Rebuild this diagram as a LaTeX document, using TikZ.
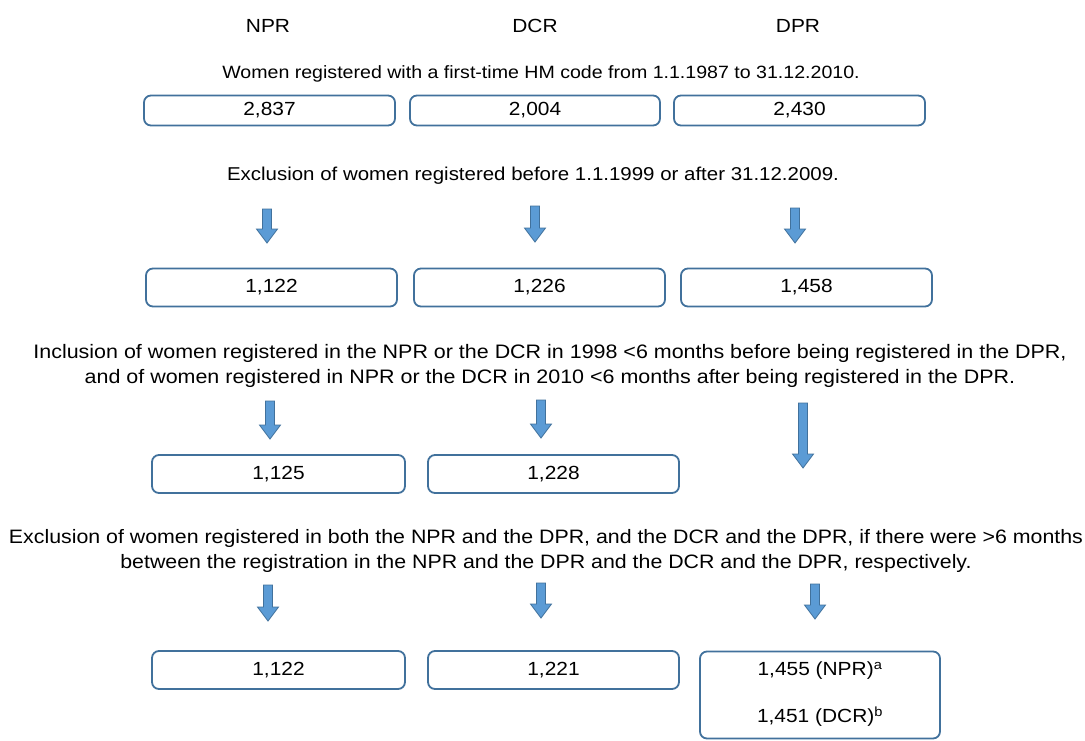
\documentclass[tikz,border=0pt]{standalone}
\usepackage{fontspec}
\setmainfont{Liberation Sans}[FakeStretch=1.1]
\begin{document}
\begin{tikzpicture}[x=1pt,y=-1pt,
  lbl/.style={inner sep=0pt,font=\fontsize{19}{25}\selectfont,align=center},
  fs/.style={font=\fontsize{#1}{25}\selectfont},
  box/.style={draw=boxline,line width=1.8pt,rounded corners=7pt,inner sep=0pt,font=\fontsize{19}{25}\selectfont},
  barrowstyle/.style={fill=arrowfill,draw=arrowline,line width=0.8pt}]
\definecolor{boxline}{HTML}{41719C}
\definecolor{arrowfill}{HTML}{5B9BD5}
\definecolor{arrowline}{HTML}{41719C}
\useasboundingbox (0,0) rectangle (1085,740);
\newcommand\barrow[4]{% name, x, ytop, ytip
  \coordinate (#1) at (#2,#3);
  \filldraw[barrowstyle] ({#2-4.5},#3) -- ({#2+4.5},#3) -- ({#2+4.5},{#4-14}) -- ({#2+10.5},{#4-14}) -- (#2,#4) -- ({#2-10.5},{#4-14}) -- ({#2-4.5},{#4-14}) -- cycle;}
% headers
\node[lbl] (hnpr) at (268,26) {NPR};
\node[lbl] (hdcr) at (535,26) {DCR};
\node[lbl] (hdpr) at (798,26) {DPR};
% step texts
\node[lbl,fs=17.8] (t1) at (541,74) {Women registered with a first-time HM code from 1.1.1987 to 31.12.2010.};
\node[lbl,fs=18.6] (t2) at (533,176) {Exclusion of women registered before 1.1.1999 or after 31.12.2009.};
\node[lbl,fs=19.5] (t3) at (550,366) {Inclusion of women registered in the NPR or the DCR in 1998 <6 months before being registered in the DPR,\\and of women registered in NPR or the DCR in 2010 <6 months after being registered in the DPR.};
\node[lbl,fs=19.4] (t4) at (546,551) {Exclusion of women registered in both the NPR and the DPR, and the DCR and the DPR, if there were >6 months\\between the registration in the NPR and the DPR and the DCR and the DPR, respectively.};
% row 1
\node[box,minimum width=251pt,minimum height=30pt] (r1a) at (269.5,110.5) {2,837};
\node[box,minimum width=250pt,minimum height=30pt] (r1b) at (535,110.5) {2,004};
\node[box,minimum width=251pt,minimum height=30pt] (r1c) at (799.5,110.5) {2,430};
% arrows 1
\barrow{a1a}{267}{209}{243}
\barrow{a1b}{535}{206}{242}
\barrow{a1c}{795}{208}{243}
% row 2
\node[box,minimum width=251pt,minimum height=38pt] (r2a) at (271.5,287.5) {1,122};
\node[box,minimum width=251pt,minimum height=38pt] (r2b) at (539.5,287.5) {1,226};
\node[box,minimum width=251pt,minimum height=38pt] (r2c) at (806.5,287.5) {1,458};
% arrows 2
\barrow{a2a}{270}{401}{439}
\barrow{a2b}{541}{400}{438}
\barrow{a2c}{803}{403}{468}
% row 3
\node[box,minimum width=253pt,minimum height=38pt] (r3a) at (278.5,474) {1,125};
\node[box,minimum width=251pt,minimum height=38pt] (r3b) at (553.5,474) {1,228};
% arrows 3
\barrow{a3a}{268}{585}{621}
\barrow{a3b}{541}{583}{618}
\barrow{a3c}{815}{584}{619}
% row 4
\node[box,minimum width=253pt,minimum height=38pt] (r4a) at (278.5,670) {1,122};
\node[box,minimum width=251pt,minimum height=38pt] (r4b) at (553.5,670) {1,221};
\node[box,minimum width=240pt,minimum height=87pt] (r4c) at (820,695) {};
\node[lbl] (r4c1) at (820,671) {1,455 (NPR)\textsuperscript{a}};
\node[lbl] (r4c2) at (820,717) {1,451 (DCR)\textsuperscript{b}};
\end{tikzpicture}
\end{document}
